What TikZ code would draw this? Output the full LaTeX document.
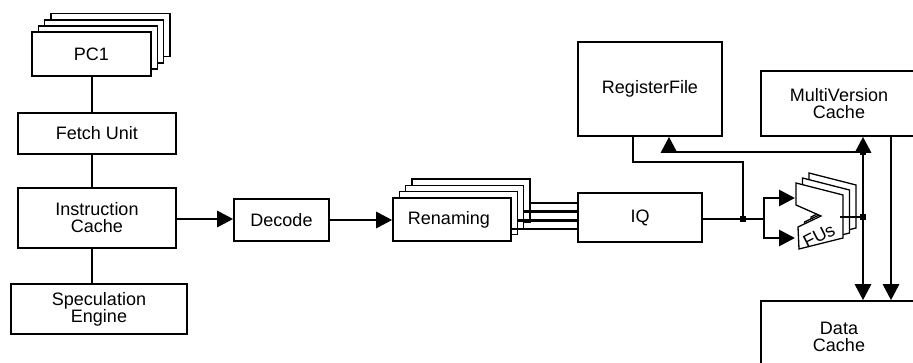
\documentclass[tikz,border=0pt]{standalone}
\usepackage{fontspec}
\setmainfont{Liberation Sans}
\usetikzlibrary{arrows.meta,calc}
\begin{document}
\begin{tikzpicture}[x=1pt,y=-1pt,
  box/.style={draw,line width=1.6pt,fill=white,inner sep=0pt,align=center,font=\fontsize{18}{17}\selectfont},
  conn/.style={line width=2.8pt},
  tip/.tip={Triangle[length=16pt,width=16pt]},
  arr/.style={conn,-tip},
  dot/.style={rectangle,fill,inner sep=0pt,minimum size=5.5pt},
  fu/.style={draw,line width=1.3pt,fill=white,line join=miter}]
\useasboundingbox (0,0) rectangle (913,363);
\clip (0,0) rectangle (913,363);

% PC stack
\foreach \k/\n in {3/pc1d,2/pc1c,1/pc1b}{
  \node[box,minimum width=119pt,minimum height=43pt] (\n) at ({91.5+6.3*\k},{54-6.3*\k}) {};
}
\node[box,minimum width=119pt,minimum height=44pt] (pc1) at (91.5,54) {PC1};
\node[box,minimum width=158pt,minimum height=41pt] (fetch) at (97,133.5) {Fetch Unit};
\node[box,minimum width=158pt,minimum height=60pt] (ic) at (97,218) {Instruction\\Cache};
\node[box,minimum width=176pt,minimum height=50pt] (spec) at (99,309) {Speculation\\Engine};
\node[box,minimum width=95pt,minimum height=42pt] (decode) at (281.5,220) {Decode};

% Renaming stack
\foreach \k/\n in {3/ren4,2/ren3,1/ren2}{
  \node[box,minimum width=118pt,minimum height=43pt] (\n) at ({452+6.3*\k},{219.5-6.3*\k}) {};
}
\node[box,minimum width=118pt,minimum height=43pt] (ren) at (452,219.5) {Renaming\hspace*{6pt}};

\node[box,minimum width=124pt,minimum height=49pt] (iq) at (640,217.5) {IQ};
\node[box,minimum width=144pt,minimum height=94pt] (rf) at (650,89) {RegisterFile};
\node[box,minimum width=156pt,minimum height=65pt] (mv) at (839,103.5) {MultiVersion\\Cache};
\node[box,minimum width=156pt,minimum height=72pt] (dc) at (839,337) {Data\\Cache};

% left column connectors
\coordinate (vx) at (92,0);
\draw[conn] (vx |- pc1.south) -- (vx |- fetch.north);
\draw[conn] (vx |- fetch.south) -- (vx |- ic.north);
\draw[conn] (vx |- ic.south) -- (vx |- spec.north);

\draw[arr] ([yshift=-1pt]ic.east) -- ([yshift=-1pt]ic.east -| decode.west);
\draw[arr] (decode.east) -- (decode.east -| ren.west);

% renaming -> IQ
\draw[conn] ([yshift=-2.5pt]ren4.east) -- ([yshift=-2.5pt]ren4.east -| iq.west);
\draw[conn] ([yshift=-5pt]ren3.east) -- ([yshift=-5pt]ren3.east -| iq.west);
\draw[conn] ([yshift=-7.5pt]ren2.east) -- ([yshift=-7.5pt]ren2.east -| iq.west);
\draw[conn] ([yshift=-9.5pt]ren.east) -- ([yshift=-9.5pt]ren.east -| iq.west);

% FUs
\foreach \dx/\dy in {13/-10,6.5/-5,0/0}{
  \draw[fu,shift={(\dx,\dy)}] (796,183) -- (843,195) -- (843,238) -- (799,249)
     -- (798,227) -- (821,216) -- (796,205) -- cycle;
}
\node[rotate=27,inner sep=0pt,font=\fontsize{18}{16}\selectfont] (fus) at (819,236) {FUs};

% IQ output and split
\coordinate (j1) at (743,0);
\coordinate (sx) at (764,0);
\coordinate (fua) at (795,198);
\coordinate (fub) at (795,238);
\draw[conn] ([yshift=-1.5pt]iq.east) -- ([yshift=-1.5pt]iq.east -| sx);
\draw[arr] ([yshift=-1.5pt]iq.east -| sx) |- (fua);
\draw[arr] ([yshift=-1.5pt]iq.east -| sx) |- (fub);

% register file read path
\coordinate (rx) at (633,0);
\coordinate (ry) at (0,162);
\draw[conn] (rx |- rf.south) |- (j1 |- ry) -- ([yshift=-1.5pt]j1 |- iq.east);
\node[dot] (d1) at ([yshift=-1.5pt]j1 |- iq.east) {};

% right side buses
\coordinate (v1) at (863,0);
\coordinate (v2) at (891,0);
\coordinate (hy) at (0,152);
\coordinate (ax) at (669,0);
\coordinate (fuo) at (840,217);
\draw[conn,tip-tip] (v1 |- mv.south) -- (v1 |- dc.north);
\draw[arr] (v2 |- mv.south) -- (v2 |- dc.north);
\draw[arr] (v1 |- hy) -| (ax |- rf.south);
\draw[line width=2.2pt] (fuo) -- (v1 |- fuo);
\node[dot] (d2) at (v1 |- hy) {};
\node[dot] (d3) at (v1 |- fuo) {};
\end{tikzpicture}
\end{document}
